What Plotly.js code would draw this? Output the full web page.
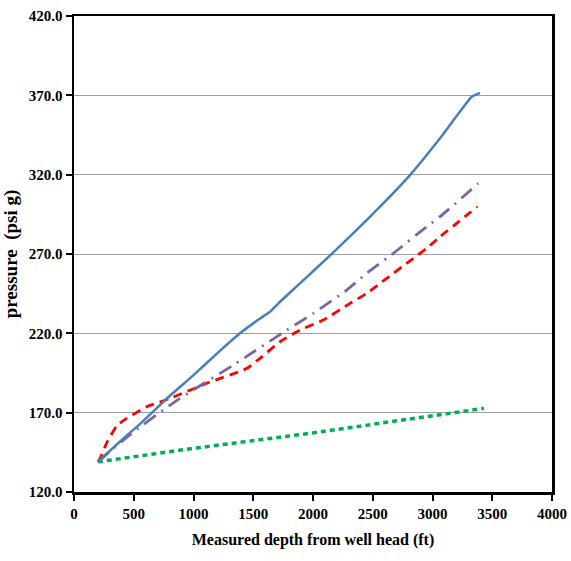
<!DOCTYPE html>
<html>
<head>
<meta charset="utf-8">
<script src="https://cdn.plot.ly/plotly-3.0.1.min.js"></script>
<style>html,body{margin:0;padding:0;background:#fff;}#chart{width:571px;height:561px;}</style>
</head>
<body>
<div id="chart"></div>
<script>
// Depth (ft) and pressure (psi g)
const blueDepth = [200, 380, 558, 800, 998, 1200, 1389, 1560, 1640, 1724, 1891, 2003, 2170, 2449, 2561, 2812, 3063, 3328, 3397];
const bluePress = [139, 151.5, 163.3, 180.5, 193.5, 207.5, 220, 229.5, 233.6, 239.9, 251.5, 259.3, 271, 291.4, 299.8, 319.7, 342.9, 369.1, 371.6];

const purpleDepth = [200, 446, 837, 1333, 1780, 2003, 2282, 2449, 2672, 2951, 3063, 3383];
const purplePress = [139, 154.8, 176.5, 200, 222, 232.6, 247.3, 257.8, 270.4, 287.2, 293.5, 314.5];

const redDepth = [200, 218, 279, 362, 441, 608, 803, 1110, 1445, 1556, 1724, 1891, 2086, 2310, 2449, 2617, 2840, 2951, 3063, 3375];
const redPress = [139, 141.2, 151.7, 162, 166.4, 173.7, 179, 188.5, 197.9, 204.2, 214.7, 222, 228.4, 238.9, 245.2, 254.7, 267.3, 273.6, 280.9, 299.8];

const greenDepth = [200, 1000, 1975, 3000, 3431];
const greenPress = [139, 147.5, 157, 168, 172.7];

const yTicks = [120, 170, 220, 270, 320, 370, 420];
const xTicks = [0, 500, 1000, 1500, 2000, 2500, 3000, 3500, 4000];

const traces = [
  {x: greenDepth, y: greenPress, mode: 'lines', line: {color: '#00b050', width: 3.5, dash: '5px,4px'}},
  {x: redDepth, y: redPress, mode: 'lines', line: {color: '#ff0000', width: 2.8, dash: '9px,6px', shape: 'spline', smoothing: 0.6}},
  {x: purpleDepth, y: purplePress, mode: 'lines', line: {color: '#8064a2', width: 2.8, dash: '14px,7px,2px,7px', shape: 'spline', smoothing: 0.6}},
  {x: blueDepth, y: bluePress, mode: 'lines', line: {color: '#4a7ebb', width: 2.5, shape: 'spline', smoothing: 0.4}}
];

const tickFont = {family: '"Liberation Serif", "Times New Roman", serif', size: 15, color: '#000', weight: 'bold'};

const layout = {
  width: 571, height: 561,
  margin: {l: 74, r: 19, t: 16, b: 69},
  paper_bgcolor: '#fff', plot_bgcolor: '#fff',
  showlegend: false,
  xaxis: {
    range: [0, 4000], tickvals: xTicks, ticktext: xTicks.map(String),
    showgrid: false, zeroline: false,
    showline: true, linecolor: '#000', linewidth: 2.5, mirror: true,
    ticks: 'outside', ticklen: 6, tickwidth: 2, tickcolor: '#000',
    tickfont: tickFont,
    title: {text: 'Measured depth from well head (ft)', font: {family: '"Liberation Serif", serif', size: 16, color: '#000', weight: 'bold'}, standoff: 14}
  },
  yaxis: {
    range: [120, 420], tickvals: yTicks, ticktext: yTicks.map(v => v.toFixed(1)),
    showgrid: true, gridcolor: '#a0a0a0', gridwidth: 1, zeroline: false,
    showline: true, linecolor: '#000', linewidth: 2.5, mirror: true,
    ticks: 'outside', ticklen: 6, tickwidth: 2, tickcolor: '#000',
    tickfont: tickFont,
    title: {text: 'pressure  (psi g)', font: {family: '"Liberation Serif", serif', size: 19, color: '#000', weight: 'bold'}, standoff: 6}
  }
};

Plotly.newPlot('chart', traces, layout, {displayModeBar: false, staticPlot: true});
</script>
</body>
</html>
